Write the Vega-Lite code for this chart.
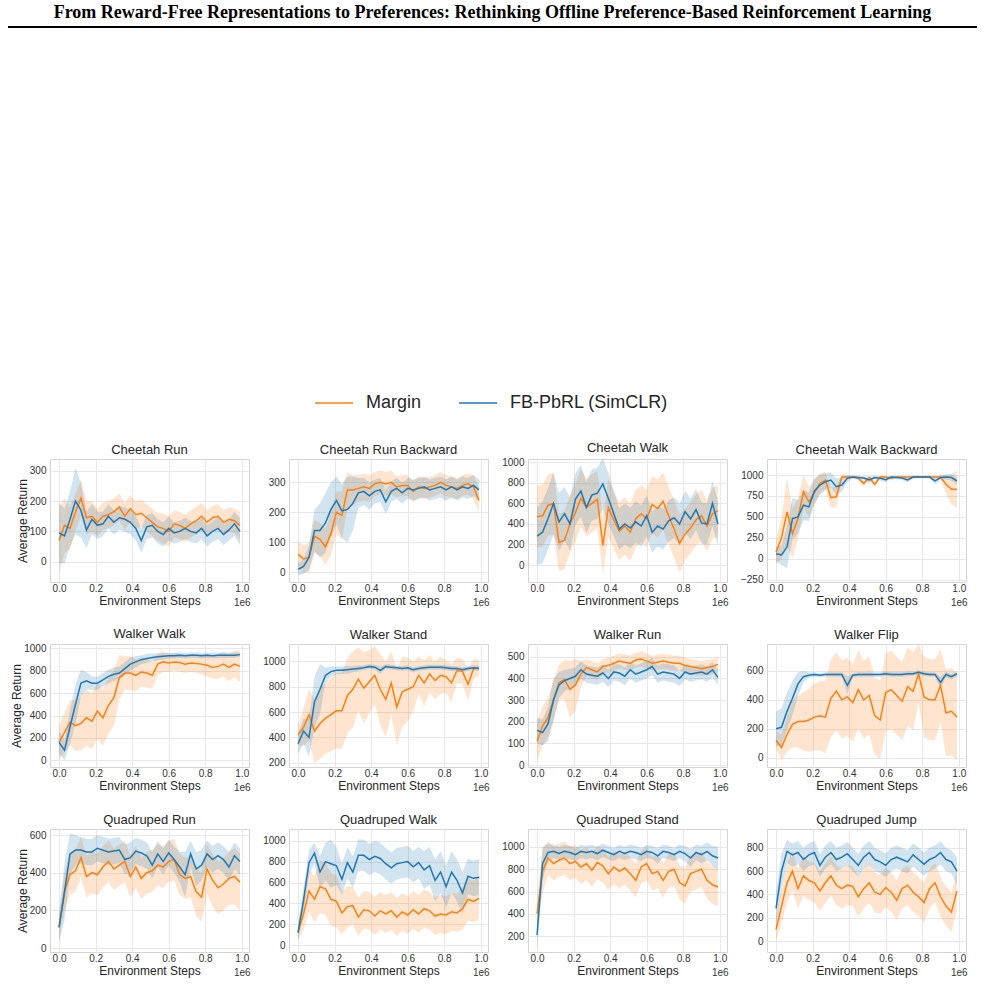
{
"$schema":"https://vega.github.io/schema/vega-lite/v6.json",
"padding":{"left":5,"right":8,"top":4,"bottom":2},
"background":"white",
"data":{"values":[
{"t":"CR","x":0,"m":70,"me":110,"f":95,"fe":100},{"t":"CR","x":0.03,"m":120,"me":90,"f":85,"fe":90},{"t":"CR","x":0.06,"m":110,"me":70,"f":140,"fe":90},{"t":"CR","x":0.09,"m":165,"me":60,"f":200,"fe":110},{"t":"CR","x":0.12,"m":210,"me":60,"f":170,"fe":90},{"t":"CR","x":0.15,"m":145,"me":55,"f":105,"fe":60},{"t":"CR","x":0.18,"m":150,"me":50,"f":140,"fe":50},{"t":"CR","x":0.21,"m":130,"me":45,"f":120,"fe":45},{"t":"CR","x":0.24,"m":150,"me":45,"f":125,"fe":40},{"t":"CR","x":0.27,"m":155,"me":45,"f":150,"fe":40},{"t":"CR","x":0.3,"m":165,"me":45,"f":130,"fe":40},{"t":"CR","x":0.33,"m":180,"me":45,"f":145,"fe":40},{"t":"CR","x":0.36,"m":150,"me":45,"f":140,"fe":40},{"t":"CR","x":0.39,"m":175,"me":45,"f":130,"fe":40},{"t":"CR","x":0.42,"m":155,"me":45,"f":110,"fe":40},{"t":"CR","x":0.45,"m":160,"me":45,"f":70,"fe":40},{"t":"CR","x":0.48,"m":145,"me":45,"f":115,"fe":40},{"t":"CR","x":0.51,"m":130,"me":45,"f":120,"fe":40},{"t":"CR","x":0.54,"m":115,"me":45,"f":100,"fe":40},{"t":"CR","x":0.57,"m":110,"me":50,"f":90,"fe":40},{"t":"CR","x":0.6,"m":100,"me":50,"f":110,"fe":40},{"t":"CR","x":0.63,"m":125,"me":45,"f":95,"fe":35},{"t":"CR","x":0.66,"m":120,"me":45,"f":100,"fe":35},{"t":"CR","x":0.69,"m":110,"me":45,"f":110,"fe":35},{"t":"CR","x":0.72,"m":125,"me":45,"f":100,"fe":35},{"t":"CR","x":0.75,"m":135,"me":45,"f":95,"fe":35},{"t":"CR","x":0.78,"m":150,"me":45,"f":110,"fe":35},{"t":"CR","x":0.81,"m":130,"me":40,"f":85,"fe":35},{"t":"CR","x":0.84,"m":145,"me":40,"f":100,"fe":35},{"t":"CR","x":0.87,"m":150,"me":40,"f":110,"fe":35},{"t":"CR","x":0.9,"m":130,"me":40,"f":90,"fe":35},{"t":"CR","x":0.93,"m":140,"me":40,"f":105,"fe":35},{"t":"CR","x":0.96,"m":135,"me":40,"f":125,"fe":40},{"t":"CR","x":0.99,"m":120,"me":45,"f":100,"fe":45},
{"t":"CRB","x":0,"m":60,"me":45,"f":10,"fe":20},{"t":"CRB","x":0.03,"m":45,"me":45,"f":20,"fe":25},{"t":"CRB","x":0.06,"m":50,"me":50,"f":50,"fe":40},{"t":"CRB","x":0.09,"m":120,"me":55,"f":140,"fe":70},{"t":"CRB","x":0.12,"m":110,"me":55,"f":140,"fe":90},{"t":"CRB","x":0.15,"m":85,"me":60,"f":165,"fe":100},{"t":"CRB","x":0.18,"m":130,"me":70,"f":210,"fe":90},{"t":"CRB","x":0.21,"m":200,"me":70,"f":240,"fe":80},{"t":"CRB","x":0.24,"m":190,"me":80,"f":205,"fe":90},{"t":"CRB","x":0.27,"m":275,"me":60,"f":210,"fe":110},{"t":"CRB","x":0.3,"m":275,"me":50,"f":230,"fe":90},{"t":"CRB","x":0.33,"m":280,"me":45,"f":265,"fe":50},{"t":"CRB","x":0.36,"m":285,"me":45,"f":270,"fe":45},{"t":"CRB","x":0.39,"m":280,"me":45,"f":255,"fe":45},{"t":"CRB","x":0.42,"m":295,"me":40,"f":270,"fe":40},{"t":"CRB","x":0.45,"m":300,"me":40,"f":275,"fe":40},{"t":"CRB","x":0.48,"m":295,"me":40,"f":235,"fe":40},{"t":"CRB","x":0.51,"m":300,"me":40,"f":270,"fe":35},{"t":"CRB","x":0.54,"m":285,"me":35,"f":280,"fe":35},{"t":"CRB","x":0.57,"m":290,"me":35,"f":265,"fe":35},{"t":"CRB","x":0.6,"m":290,"me":35,"f":280,"fe":35},{"t":"CRB","x":0.63,"m":270,"me":35,"f":275,"fe":35},{"t":"CRB","x":0.66,"m":285,"me":35,"f":280,"fe":35},{"t":"CRB","x":0.69,"m":280,"me":35,"f":285,"fe":35},{"t":"CRB","x":0.72,"m":285,"me":35,"f":275,"fe":35},{"t":"CRB","x":0.75,"m":290,"me":35,"f":280,"fe":35},{"t":"CRB","x":0.78,"m":300,"me":35,"f":285,"fe":35},{"t":"CRB","x":0.81,"m":290,"me":35,"f":275,"fe":35},{"t":"CRB","x":0.84,"m":285,"me":35,"f":285,"fe":35},{"t":"CRB","x":0.87,"m":280,"me":35,"f":275,"fe":35},{"t":"CRB","x":0.9,"m":290,"me":35,"f":285,"fe":35},{"t":"CRB","x":0.93,"m":295,"me":35,"f":280,"fe":35},{"t":"CRB","x":0.96,"m":285,"me":40,"f":290,"fe":35},{"t":"CRB","x":0.99,"m":240,"me":40,"f":275,"fe":35},
{"t":"CW","x":0,"m":470,"me":300,"f":280,"fe":280},{"t":"CW","x":0.03,"m":480,"me":300,"f":320,"fe":300},{"t":"CW","x":0.06,"m":580,"me":300,"f":450,"fe":300},{"t":"CW","x":0.09,"m":600,"me":300,"f":600,"fe":300},{"t":"CW","x":0.12,"m":220,"me":280,"f":420,"fe":280},{"t":"CW","x":0.15,"m":240,"me":280,"f":500,"fe":260},{"t":"CW","x":0.18,"m":400,"me":280,"f":400,"fe":260},{"t":"CW","x":0.21,"m":510,"me":280,"f":640,"fe":250},{"t":"CW","x":0.24,"m":650,"me":280,"f":720,"fe":250},{"t":"CW","x":0.27,"m":560,"me":280,"f":560,"fe":250},{"t":"CW","x":0.3,"m":600,"me":280,"f":680,"fe":250},{"t":"CW","x":0.33,"m":640,"me":280,"f":700,"fe":250},{"t":"CW","x":0.36,"m":190,"me":280,"f":790,"fe":250},{"t":"CW","x":0.39,"m":560,"me":280,"f":650,"fe":250},{"t":"CW","x":0.42,"m":440,"me":280,"f":500,"fe":220},{"t":"CW","x":0.45,"m":330,"me":280,"f":350,"fe":200},{"t":"CW","x":0.48,"m":380,"me":280,"f":400,"fe":200},{"t":"CW","x":0.51,"m":320,"me":280,"f":360,"fe":200},{"t":"CW","x":0.54,"m":450,"me":280,"f":420,"fe":200},{"t":"CW","x":0.57,"m":500,"me":280,"f":380,"fe":200},{"t":"CW","x":0.6,"m":450,"me":280,"f":480,"fe":200},{"t":"CW","x":0.63,"m":590,"me":280,"f":320,"fe":200},{"t":"CW","x":0.66,"m":550,"me":280,"f":380,"fe":200},{"t":"CW","x":0.69,"m":620,"me":280,"f":350,"fe":200},{"t":"CW","x":0.72,"m":480,"me":280,"f":430,"fe":200},{"t":"CW","x":0.75,"m":350,"me":280,"f":460,"fe":200},{"t":"CW","x":0.78,"m":210,"me":280,"f":400,"fe":200},{"t":"CW","x":0.81,"m":300,"me":250,"f":520,"fe":200},{"t":"CW","x":0.84,"m":360,"me":250,"f":450,"fe":200},{"t":"CW","x":0.87,"m":440,"me":250,"f":540,"fe":200},{"t":"CW","x":0.9,"m":480,"me":250,"f":410,"fe":200},{"t":"CW","x":0.93,"m":380,"me":250,"f":400,"fe":200},{"t":"CW","x":0.96,"m":500,"me":250,"f":600,"fe":220},{"t":"CW","x":0.99,"m":530,"me":250,"f":400,"fe":220},
{"t":"CWB","x":0,"m":80,"me":150,"f":60,"fe":80},{"t":"CWB","x":0.03,"m":250,"me":250,"f":45,"fe":120},{"t":"CWB","x":0.06,"m":560,"me":400,"f":140,"fe":250},{"t":"CWB","x":0.09,"m":300,"me":300,"f":480,"fe":250},{"t":"CWB","x":0.12,"m":480,"me":250,"f":500,"fe":200},{"t":"CWB","x":0.15,"m":800,"me":200,"f":640,"fe":180},{"t":"CWB","x":0.18,"m":680,"me":180,"f":620,"fe":170},{"t":"CWB","x":0.21,"m":790,"me":150,"f":810,"fe":150},{"t":"CWB","x":0.24,"m":900,"me":120,"f":880,"fe":120},{"t":"CWB","x":0.27,"m":940,"me":100,"f":920,"fe":100},{"t":"CWB","x":0.3,"m":730,"me":120,"f":940,"fe":90},{"t":"CWB","x":0.33,"m":740,"me":120,"f":860,"fe":100},{"t":"CWB","x":0.36,"m":975,"me":30,"f":880,"fe":80},{"t":"CWB","x":0.39,"m":975,"me":20,"f":960,"fe":40},{"t":"CWB","x":0.42,"m":975,"me":15,"f":975,"fe":20},{"t":"CWB","x":0.45,"m":960,"me":20,"f":970,"fe":20},{"t":"CWB","x":0.48,"m":900,"me":40,"f":965,"fe":20},{"t":"CWB","x":0.51,"m":970,"me":20,"f":940,"fe":40},{"t":"CWB","x":0.54,"m":890,"me":40,"f":970,"fe":20},{"t":"CWB","x":0.57,"m":975,"me":15,"f":960,"fe":25},{"t":"CWB","x":0.6,"m":975,"me":15,"f":945,"fe":30},{"t":"CWB","x":0.63,"m":960,"me":20,"f":975,"fe":20},{"t":"CWB","x":0.66,"m":975,"me":15,"f":970,"fe":20},{"t":"CWB","x":0.69,"m":975,"me":15,"f":965,"fe":25},{"t":"CWB","x":0.72,"m":975,"me":15,"f":940,"fe":30},{"t":"CWB","x":0.75,"m":975,"me":15,"f":975,"fe":15},{"t":"CWB","x":0.78,"m":975,"me":15,"f":975,"fe":15},{"t":"CWB","x":0.81,"m":975,"me":15,"f":975,"fe":15},{"t":"CWB","x":0.84,"m":975,"me":15,"f":975,"fe":15},{"t":"CWB","x":0.87,"m":975,"me":15,"f":930,"fe":40},{"t":"CWB","x":0.9,"m":975,"me":20,"f":970,"fe":30},{"t":"CWB","x":0.93,"m":890,"me":120,"f":975,"fe":30},{"t":"CWB","x":0.96,"m":830,"me":180,"f":970,"fe":40},{"t":"CWB","x":0.99,"m":830,"me":220,"f":930,"fe":40},
{"t":"WW","x":0,"m":160,"me":150,"f":160,"fe":100},{"t":"WW","x":0.03,"m":250,"me":180,"f":90,"fe":90},{"t":"WW","x":0.06,"m":340,"me":200,"f":300,"fe":150},{"t":"WW","x":0.09,"m":310,"me":230,"f":500,"fe":180},{"t":"WW","x":0.12,"m":330,"me":240,"f":690,"fe":120},{"t":"WW","x":0.15,"m":380,"me":250,"f":710,"fe":80},{"t":"WW","x":0.18,"m":350,"me":250,"f":690,"fe":60},{"t":"WW","x":0.21,"m":440,"me":250,"f":690,"fe":60},{"t":"WW","x":0.24,"m":380,"me":250,"f":720,"fe":60},{"t":"WW","x":0.27,"m":490,"me":250,"f":750,"fe":60},{"t":"WW","x":0.3,"m":560,"me":250,"f":770,"fe":60},{"t":"WW","x":0.33,"m":740,"me":200,"f":780,"fe":60},{"t":"WW","x":0.36,"m":780,"me":150,"f":820,"fe":60},{"t":"WW","x":0.39,"m":780,"me":150,"f":860,"fe":60},{"t":"WW","x":0.42,"m":760,"me":140,"f":880,"fe":50},{"t":"WW","x":0.45,"m":790,"me":130,"f":900,"fe":40},{"t":"WW","x":0.48,"m":780,"me":130,"f":910,"fe":40},{"t":"WW","x":0.51,"m":760,"me":120,"f":920,"fe":35},{"t":"WW","x":0.54,"m":860,"me":100,"f":925,"fe":30},{"t":"WW","x":0.57,"m":880,"me":90,"f":930,"fe":30},{"t":"WW","x":0.6,"m":870,"me":80,"f":935,"fe":25},{"t":"WW","x":0.63,"m":880,"me":80,"f":935,"fe":25},{"t":"WW","x":0.66,"m":875,"me":80,"f":940,"fe":25},{"t":"WW","x":0.69,"m":860,"me":80,"f":935,"fe":25},{"t":"WW","x":0.72,"m":870,"me":80,"f":940,"fe":25},{"t":"WW","x":0.75,"m":865,"me":80,"f":940,"fe":25},{"t":"WW","x":0.78,"m":860,"me":90,"f":935,"fe":25},{"t":"WW","x":0.81,"m":850,"me":100,"f":940,"fe":25},{"t":"WW","x":0.84,"m":830,"me":100,"f":935,"fe":25},{"t":"WW","x":0.87,"m":840,"me":110,"f":940,"fe":25},{"t":"WW","x":0.9,"m":860,"me":110,"f":940,"fe":25},{"t":"WW","x":0.93,"m":830,"me":120,"f":940,"fe":25},{"t":"WW","x":0.96,"m":860,"me":120,"f":940,"fe":25},{"t":"WW","x":0.99,"m":840,"me":140,"f":945,"fe":20},
{"t":"WS","x":0,"m":420,"me":80,"f":350,"fe":80},{"t":"WS","x":0.03,"m":480,"me":150,"f":450,"fe":100},{"t":"WS","x":0.06,"m":580,"me":200,"f":400,"fe":150},{"t":"WS","x":0.09,"m":450,"me":250,"f":680,"fe":200},{"t":"WS","x":0.12,"m":510,"me":280,"f":780,"fe":200},{"t":"WS","x":0.15,"m":550,"me":280,"f":890,"fe":60},{"t":"WS","x":0.18,"m":580,"me":290,"f":920,"fe":40},{"t":"WS","x":0.21,"m":610,"me":300,"f":930,"fe":30},{"t":"WS","x":0.24,"m":610,"me":300,"f":930,"fe":30},{"t":"WS","x":0.27,"m":730,"me":300,"f":935,"fe":30},{"t":"WS","x":0.3,"m":780,"me":300,"f":940,"fe":25},{"t":"WS","x":0.33,"m":860,"me":250,"f":945,"fe":25},{"t":"WS","x":0.36,"m":790,"me":280,"f":950,"fe":20},{"t":"WS","x":0.39,"m":840,"me":250,"f":960,"fe":20},{"t":"WS","x":0.42,"m":890,"me":230,"f":955,"fe":20},{"t":"WS","x":0.45,"m":780,"me":280,"f":930,"fe":30},{"t":"WS","x":0.48,"m":700,"me":300,"f":960,"fe":20},{"t":"WS","x":0.51,"m":830,"me":250,"f":955,"fe":20},{"t":"WS","x":0.54,"m":640,"me":300,"f":950,"fe":20},{"t":"WS","x":0.57,"m":760,"me":280,"f":945,"fe":20},{"t":"WS","x":0.6,"m":780,"me":250,"f":950,"fe":20},{"t":"WS","x":0.63,"m":800,"me":200,"f":935,"fe":20},{"t":"WS","x":0.66,"m":890,"me":150,"f":945,"fe":20},{"t":"WS","x":0.69,"m":830,"me":180,"f":950,"fe":20},{"t":"WS","x":0.72,"m":900,"me":150,"f":955,"fe":20},{"t":"WS","x":0.75,"m":850,"me":150,"f":955,"fe":20},{"t":"WS","x":0.78,"m":890,"me":150,"f":955,"fe":20},{"t":"WS","x":0.81,"m":880,"me":130,"f":950,"fe":20},{"t":"WS","x":0.84,"m":830,"me":150,"f":945,"fe":20},{"t":"WS","x":0.87,"m":930,"me":100,"f":945,"fe":20},{"t":"WS","x":0.9,"m":920,"me":100,"f":935,"fe":20},{"t":"WS","x":0.93,"m":820,"me":130,"f":945,"fe":20},{"t":"WS","x":0.96,"m":940,"me":80,"f":950,"fe":20},{"t":"WS","x":0.99,"m":950,"me":60,"f":945,"fe":25},
{"t":"WR","x":0,"m":110,"me":90,"f":160,"fe":60},{"t":"WR","x":0.03,"m":180,"me":90,"f":150,"fe":60},{"t":"WR","x":0.06,"m":220,"me":90,"f":190,"fe":80},{"t":"WR","x":0.09,"m":300,"me":90,"f":300,"fe":100},{"t":"WR","x":0.12,"m":380,"me":80,"f":370,"fe":60},{"t":"WR","x":0.15,"m":395,"me":90,"f":390,"fe":50},{"t":"WR","x":0.18,"m":350,"me":130,"f":400,"fe":45},{"t":"WR","x":0.21,"m":370,"me":120,"f":410,"fe":40},{"t":"WR","x":0.24,"m":420,"me":60,"f":440,"fe":40},{"t":"WR","x":0.27,"m":450,"me":40,"f":420,"fe":40},{"t":"WR","x":0.3,"m":440,"me":40,"f":415,"fe":40},{"t":"WR","x":0.33,"m":430,"me":40,"f":410,"fe":40},{"t":"WR","x":0.36,"m":455,"me":35,"f":425,"fe":40},{"t":"WR","x":0.39,"m":460,"me":35,"f":400,"fe":40},{"t":"WR","x":0.42,"m":470,"me":35,"f":430,"fe":40},{"t":"WR","x":0.45,"m":480,"me":35,"f":425,"fe":40},{"t":"WR","x":0.48,"m":475,"me":35,"f":410,"fe":40},{"t":"WR","x":0.51,"m":470,"me":35,"f":440,"fe":40},{"t":"WR","x":0.54,"m":485,"me":35,"f":420,"fe":40},{"t":"WR","x":0.57,"m":490,"me":35,"f":430,"fe":40},{"t":"WR","x":0.6,"m":480,"me":35,"f":440,"fe":40},{"t":"WR","x":0.63,"m":470,"me":35,"f":455,"fe":40},{"t":"WR","x":0.66,"m":475,"me":35,"f":420,"fe":40},{"t":"WR","x":0.69,"m":480,"me":35,"f":430,"fe":40},{"t":"WR","x":0.72,"m":475,"me":35,"f":425,"fe":40},{"t":"WR","x":0.75,"m":470,"me":35,"f":420,"fe":40},{"t":"WR","x":0.78,"m":470,"me":35,"f":400,"fe":35},{"t":"WR","x":0.81,"m":460,"me":35,"f":430,"fe":35},{"t":"WR","x":0.84,"m":455,"me":35,"f":420,"fe":35},{"t":"WR","x":0.87,"m":450,"me":35,"f":425,"fe":35},{"t":"WR","x":0.9,"m":445,"me":35,"f":430,"fe":35},{"t":"WR","x":0.93,"m":450,"me":35,"f":420,"fe":35},{"t":"WR","x":0.96,"m":455,"me":35,"f":440,"fe":35},{"t":"WR","x":0.99,"m":465,"me":35,"f":405,"fe":35},
{"t":"WF","x":0,"m":120,"me":60,"f":200,"fe":120},{"t":"WF","x":0.03,"m":70,"me":90,"f":210,"fe":130},{"t":"WF","x":0.06,"m":160,"me":120,"f":320,"fe":130},{"t":"WF","x":0.09,"m":230,"me":160,"f":410,"fe":120},{"t":"WF","x":0.12,"m":250,"me":180,"f":510,"fe":80},{"t":"WF","x":0.15,"m":250,"me":200,"f":560,"fe":40},{"t":"WF","x":0.18,"m":260,"me":220,"f":570,"fe":20},{"t":"WF","x":0.21,"m":280,"me":230,"f":575,"fe":15},{"t":"WF","x":0.24,"m":290,"me":240,"f":570,"fe":15},{"t":"WF","x":0.27,"m":280,"me":250,"f":575,"fe":15},{"t":"WF","x":0.3,"m":410,"me":270,"f":575,"fe":15},{"t":"WF","x":0.33,"m":460,"me":270,"f":575,"fe":15},{"t":"WF","x":0.36,"m":400,"me":270,"f":575,"fe":15},{"t":"WF","x":0.39,"m":420,"me":270,"f":500,"fe":60},{"t":"WF","x":0.42,"m":380,"me":270,"f":570,"fe":15},{"t":"WF","x":0.45,"m":470,"me":270,"f":575,"fe":15},{"t":"WF","x":0.48,"m":400,"me":270,"f":575,"fe":15},{"t":"WF","x":0.51,"m":430,"me":270,"f":575,"fe":15},{"t":"WF","x":0.54,"m":290,"me":270,"f":575,"fe":15},{"t":"WF","x":0.57,"m":260,"me":270,"f":575,"fe":15},{"t":"WF","x":0.6,"m":450,"me":270,"f":580,"fe":15},{"t":"WF","x":0.63,"m":470,"me":270,"f":575,"fe":15},{"t":"WF","x":0.66,"m":430,"me":270,"f":575,"fe":15},{"t":"WF","x":0.69,"m":390,"me":270,"f":575,"fe":15},{"t":"WF","x":0.72,"m":490,"me":270,"f":580,"fe":15},{"t":"WF","x":0.75,"m":460,"me":270,"f":580,"fe":15},{"t":"WF","x":0.78,"m":580,"me":200,"f":590,"fe":15},{"t":"WF","x":0.81,"m":420,"me":280,"f":580,"fe":15},{"t":"WF","x":0.84,"m":400,"me":280,"f":575,"fe":15},{"t":"WF","x":0.87,"m":400,"me":280,"f":575,"fe":15},{"t":"WF","x":0.9,"m":500,"me":250,"f":520,"fe":40},{"t":"WF","x":0.93,"m":310,"me":300,"f":575,"fe":20},{"t":"WF","x":0.96,"m":320,"me":300,"f":560,"fe":20},{"t":"WF","x":0.99,"m":280,"me":300,"f":580,"fe":20},
{"t":"QR","x":0,"m":110,"me":60,"f":110,"fe":80},{"t":"QR","x":0.03,"m":300,"me":100,"f":300,"fe":150},{"t":"QR","x":0.06,"m":390,"me":110,"f":500,"fe":110},{"t":"QR","x":0.09,"m":410,"me":110,"f":520,"fe":80},{"t":"QR","x":0.12,"m":480,"me":110,"f":520,"fe":70},{"t":"QR","x":0.15,"m":380,"me":110,"f":510,"fe":70},{"t":"QR","x":0.18,"m":400,"me":110,"f":510,"fe":70},{"t":"QR","x":0.21,"m":390,"me":110,"f":530,"fe":70},{"t":"QR","x":0.24,"m":430,"me":110,"f":520,"fe":70},{"t":"QR","x":0.27,"m":460,"me":110,"f":510,"fe":70},{"t":"QR","x":0.3,"m":420,"me":110,"f":515,"fe":70},{"t":"QR","x":0.33,"m":440,"me":110,"f":520,"fe":70},{"t":"QR","x":0.36,"m":460,"me":110,"f":470,"fe":80},{"t":"QR","x":0.39,"m":380,"me":110,"f":480,"fe":80},{"t":"QR","x":0.42,"m":430,"me":110,"f":515,"fe":70},{"t":"QR","x":0.45,"m":370,"me":110,"f":505,"fe":70},{"t":"QR","x":0.48,"m":400,"me":110,"f":490,"fe":70},{"t":"QR","x":0.51,"m":410,"me":110,"f":440,"fe":70},{"t":"QR","x":0.54,"m":440,"me":110,"f":500,"fe":70},{"t":"QR","x":0.57,"m":430,"me":110,"f":460,"fe":70},{"t":"QR","x":0.6,"m":460,"me":110,"f":505,"fe":70},{"t":"QR","x":0.63,"m":470,"me":110,"f":470,"fe":70},{"t":"QR","x":0.66,"m":390,"me":110,"f":430,"fe":80},{"t":"QR","x":0.69,"m":370,"me":110,"f":390,"fe":120},{"t":"QR","x":0.72,"m":380,"me":110,"f":500,"fe":70},{"t":"QR","x":0.75,"m":300,"me":130,"f":420,"fe":90},{"t":"QR","x":0.78,"m":270,"me":130,"f":440,"fe":80},{"t":"QR","x":0.81,"m":420,"me":130,"f":500,"fe":70},{"t":"QR","x":0.84,"m":360,"me":140,"f":470,"fe":70},{"t":"QR","x":0.87,"m":320,"me":140,"f":490,"fe":70},{"t":"QR","x":0.9,"m":340,"me":140,"f":470,"fe":70},{"t":"QR","x":0.93,"m":370,"me":140,"f":430,"fe":80},{"t":"QR","x":0.96,"m":380,"me":150,"f":490,"fe":70},{"t":"QR","x":0.99,"m":350,"me":150,"f":460,"fe":70},
{"t":"QW","x":0,"m":130,"me":80,"f":120,"fe":80},{"t":"QW","x":0.03,"m":300,"me":150,"f":430,"fe":120},{"t":"QW","x":0.06,"m":520,"me":200,"f":790,"fe":120},{"t":"QW","x":0.09,"m":440,"me":220,"f":880,"fe":100},{"t":"QW","x":0.12,"m":560,"me":250,"f":700,"fe":150},{"t":"QW","x":0.15,"m":540,"me":250,"f":800,"fe":180},{"t":"QW","x":0.18,"m":440,"me":250,"f":780,"fe":230},{"t":"QW","x":0.21,"m":420,"me":250,"f":760,"fe":180},{"t":"QW","x":0.24,"m":310,"me":200,"f":630,"fe":150},{"t":"QW","x":0.27,"m":370,"me":200,"f":790,"fe":150},{"t":"QW","x":0.3,"m":380,"me":180,"f":700,"fe":150},{"t":"QW","x":0.33,"m":270,"me":180,"f":860,"fe":150},{"t":"QW","x":0.36,"m":340,"me":180,"f":860,"fe":150},{"t":"QW","x":0.39,"m":330,"me":180,"f":820,"fe":150},{"t":"QW","x":0.42,"m":280,"me":180,"f":850,"fe":150},{"t":"QW","x":0.45,"m":330,"me":180,"f":830,"fe":150},{"t":"QW","x":0.48,"m":300,"me":180,"f":780,"fe":150},{"t":"QW","x":0.51,"m":330,"me":180,"f":740,"fe":150},{"t":"QW","x":0.54,"m":270,"me":180,"f":780,"fe":150},{"t":"QW","x":0.57,"m":320,"me":180,"f":790,"fe":150},{"t":"QW","x":0.6,"m":290,"me":180,"f":800,"fe":150},{"t":"QW","x":0.63,"m":340,"me":180,"f":750,"fe":150},{"t":"QW","x":0.66,"m":300,"me":180,"f":790,"fe":150},{"t":"QW","x":0.69,"m":350,"me":180,"f":720,"fe":180},{"t":"QW","x":0.72,"m":330,"me":180,"f":760,"fe":180},{"t":"QW","x":0.75,"m":280,"me":180,"f":620,"fe":200},{"t":"QW","x":0.78,"m":300,"me":180,"f":700,"fe":200},{"t":"QW","x":0.81,"m":290,"me":180,"f":560,"fe":200},{"t":"QW","x":0.84,"m":320,"me":180,"f":700,"fe":200},{"t":"QW","x":0.87,"m":310,"me":180,"f":620,"fe":200},{"t":"QW","x":0.9,"m":350,"me":200,"f":500,"fe":200},{"t":"QW","x":0.93,"m":440,"me":200,"f":660,"fe":170},{"t":"QW","x":0.96,"m":420,"me":200,"f":640,"fe":170},{"t":"QW","x":0.99,"m":450,"me":200,"f":650,"fe":170},
{"t":"QS","x":0,"m":400,"me":150,"f":210,"fe":150},{"t":"QS","x":0.03,"m":780,"me":200,"f":850,"fe":150},{"t":"QS","x":0.06,"m":900,"me":150,"f":950,"fe":80},{"t":"QS","x":0.09,"m":850,"me":150,"f":960,"fe":60},{"t":"QS","x":0.12,"m":880,"me":150,"f":940,"fe":60},{"t":"QS","x":0.15,"m":900,"me":150,"f":960,"fe":60},{"t":"QS","x":0.18,"m":850,"me":150,"f":950,"fe":60},{"t":"QS","x":0.21,"m":870,"me":150,"f":930,"fe":60},{"t":"QS","x":0.24,"m":820,"me":150,"f":960,"fe":60},{"t":"QS","x":0.27,"m":850,"me":150,"f":950,"fe":60},{"t":"QS","x":0.3,"m":790,"me":150,"f":960,"fe":60},{"t":"QS","x":0.33,"m":860,"me":150,"f":940,"fe":60},{"t":"QS","x":0.36,"m":830,"me":150,"f":970,"fe":60},{"t":"QS","x":0.39,"m":760,"me":150,"f":950,"fe":60},{"t":"QS","x":0.42,"m":820,"me":150,"f":930,"fe":60},{"t":"QS","x":0.45,"m":780,"me":150,"f":960,"fe":60},{"t":"QS","x":0.48,"m":810,"me":150,"f":940,"fe":60},{"t":"QS","x":0.51,"m":760,"me":150,"f":960,"fe":60},{"t":"QS","x":0.54,"m":700,"me":150,"f":950,"fe":60},{"t":"QS","x":0.57,"m":820,"me":150,"f":930,"fe":60},{"t":"QS","x":0.6,"m":850,"me":150,"f":960,"fe":60},{"t":"QS","x":0.63,"m":760,"me":150,"f":950,"fe":60},{"t":"QS","x":0.66,"m":780,"me":150,"f":920,"fe":70},{"t":"QS","x":0.69,"m":700,"me":150,"f":960,"fe":60},{"t":"QS","x":0.72,"m":780,"me":150,"f":950,"fe":60},{"t":"QS","x":0.75,"m":800,"me":150,"f":930,"fe":60},{"t":"QS","x":0.78,"m":680,"me":150,"f":960,"fe":60},{"t":"QS","x":0.81,"m":650,"me":160,"f":940,"fe":70},{"t":"QS","x":0.84,"m":760,"me":160,"f":900,"fe":80},{"t":"QS","x":0.87,"m":780,"me":160,"f":950,"fe":70},{"t":"QS","x":0.9,"m":800,"me":160,"f":930,"fe":80},{"t":"QS","x":0.93,"m":700,"me":160,"f":960,"fe":80},{"t":"QS","x":0.96,"m":660,"me":170,"f":920,"fe":90},{"t":"QS","x":0.99,"m":640,"me":170,"f":900,"fe":100},
{"t":"QJ","x":0,"m":100,"me":100,"f":280,"fe":150},{"t":"QJ","x":0.03,"m":300,"me":150,"f":600,"fe":150},{"t":"QJ","x":0.06,"m":500,"me":170,"f":770,"fe":100},{"t":"QJ","x":0.09,"m":600,"me":170,"f":740,"fe":100},{"t":"QJ","x":0.12,"m":450,"me":170,"f":760,"fe":100},{"t":"QJ","x":0.15,"m":560,"me":170,"f":700,"fe":100},{"t":"QJ","x":0.18,"m":520,"me":170,"f":740,"fe":100},{"t":"QJ","x":0.21,"m":500,"me":170,"f":760,"fe":100},{"t":"QJ","x":0.24,"m":430,"me":170,"f":650,"fe":100},{"t":"QJ","x":0.27,"m":500,"me":170,"f":720,"fe":100},{"t":"QJ","x":0.3,"m":560,"me":170,"f":760,"fe":100},{"t":"QJ","x":0.33,"m":480,"me":170,"f":700,"fe":100},{"t":"QJ","x":0.36,"m":450,"me":170,"f":720,"fe":100},{"t":"QJ","x":0.39,"m":480,"me":170,"f":750,"fe":100},{"t":"QJ","x":0.42,"m":470,"me":170,"f":700,"fe":100},{"t":"QJ","x":0.45,"m":380,"me":170,"f":650,"fe":100},{"t":"QJ","x":0.48,"m":450,"me":170,"f":720,"fe":100},{"t":"QJ","x":0.51,"m":500,"me":170,"f":760,"fe":100},{"t":"QJ","x":0.54,"m":420,"me":170,"f":700,"fe":100},{"t":"QJ","x":0.57,"m":400,"me":170,"f":680,"fe":100},{"t":"QJ","x":0.6,"m":460,"me":170,"f":650,"fe":100},{"t":"QJ","x":0.63,"m":420,"me":170,"f":700,"fe":100},{"t":"QJ","x":0.66,"m":350,"me":170,"f":720,"fe":100},{"t":"QJ","x":0.69,"m":450,"me":170,"f":700,"fe":100},{"t":"QJ","x":0.72,"m":480,"me":170,"f":680,"fe":100},{"t":"QJ","x":0.75,"m":420,"me":170,"f":740,"fe":100},{"t":"QJ","x":0.78,"m":380,"me":170,"f":700,"fe":100},{"t":"QJ","x":0.81,"m":330,"me":170,"f":660,"fe":100},{"t":"QJ","x":0.84,"m":450,"me":170,"f":700,"fe":100},{"t":"QJ","x":0.87,"m":500,"me":170,"f":720,"fe":100},{"t":"QJ","x":0.9,"m":380,"me":170,"f":760,"fe":100},{"t":"QJ","x":0.93,"m":300,"me":170,"f":700,"fe":100},{"t":"QJ","x":0.96,"m":250,"me":170,"f":680,"fe":100},{"t":"QJ","x":0.99,"m":430,"me":170,"f":600,"fe":120}
]},
"spacing":411,
"vconcat":[
{"width":969,"height":2,"data":{"values":[{}]},"title":{"text":"From Reward-Free Representations to Preferences: Rethinking Offline Preference-Based Reinforcement Learning","font":"Liberation Serif","fontSize":18,"fontWeight":"bold","color":"black","offset":2},"view":{"fill":"black","stroke":null},"mark":{"type":"point","opacity":0},"encoding":{}},
{"bounds":"flush","spacing":41,"hconcat":[
{"width":1,"height":1,"data":{"values":[{}]},"view":{"stroke":null},"mark":{"type":"point","opacity":0},"encoding":{}},
{"columns":4,"bounds":"flush","spacing":{"row":62,"column":40},"concat":[
{"title":"Cheetah Run","width":199,"height":123,"transform":[{"filter":"datum.t=='CR'"}],"encoding":{"x":{"field":"x","type":"quantitative","scale":{"domain":[-0.0495,1.0395]},"axis":{"values":[0,0.2,0.4,0.6,0.8,1],"format":".1f","labelExpr":"datum.value==1?['1.0','1e6']:datum.label","title":"Environment Steps","titleBaseline":"alphabetic","titleY":22}}},"layer":[
{"mark":"errorband","encoding":{"y":{"field":"m","type":"quantitative","scale":{"domain":[-67,339]},"axis":{"values":[0,100,200,300],"format":"d","title":"Average Return"}},"yError":{"field":"me"},"color":{"datum":"Margin"}}},
{"mark":"errorband","encoding":{"y":{"field":"f","type":"quantitative","scale":{"domain":[-67,339]},"axis":{"values":[0,100,200,300],"format":"d","title":"Average Return"}},"yError":{"field":"fe"},"color":{"datum":"FB-PbRL (SimCLR)"}}},
{"mark":"line","encoding":{"y":{"field":"m","type":"quantitative","scale":{"domain":[-67,339]},"axis":{"values":[0,100,200,300],"format":"d","title":"Average Return"}},"color":{"datum":"Margin","scale":{"domain":["Margin","FB-PbRL (SimCLR)"],"range":["#ff7f0e","#1f77b4"]},"legend":{"title":null,"symbolStrokeWidth":3,"encode":{"symbols":{"update":{"strokeWidth":{"value":3}}}}}}}},
{"mark":"line","encoding":{"y":{"field":"f","type":"quantitative","scale":{"domain":[-67,339]},"axis":{"values":[0,100,200,300],"format":"d","title":"Average Return"}},"color":{"datum":"FB-PbRL (SimCLR)"}}}]},
{"title":"Cheetah Run Backward","width":199,"height":123,"transform":[{"filter":"datum.t=='CRB'"}],"encoding":{"x":{"field":"x","type":"quantitative","scale":{"domain":[-0.0495,1.0395]},"axis":{"values":[0,0.2,0.4,0.6,0.8,1],"format":".1f","labelExpr":"datum.value==1?['1.0','1e6']:datum.label","title":"Environment Steps","titleBaseline":"alphabetic","titleY":22}}},"layer":[
{"mark":"errorband","encoding":{"y":{"field":"m","type":"quantitative","scale":{"domain":[-32,378]},"axis":{"values":[0,100,200,300],"format":"d","title":null}},"yError":{"field":"me"},"color":{"datum":"Margin"}}},
{"mark":"errorband","encoding":{"y":{"field":"f","type":"quantitative","scale":{"domain":[-32,378]},"axis":{"values":[0,100,200,300],"format":"d","title":null}},"yError":{"field":"fe"},"color":{"datum":"FB-PbRL (SimCLR)"}}},
{"mark":"line","encoding":{"y":{"field":"m","type":"quantitative","scale":{"domain":[-32,378]},"axis":{"values":[0,100,200,300],"format":"d","title":null}},"color":{"datum":"Margin"}}},
{"mark":"line","encoding":{"y":{"field":"f","type":"quantitative","scale":{"domain":[-32,378]},"axis":{"values":[0,100,200,300],"format":"d","title":null}},"color":{"datum":"FB-PbRL (SimCLR)"}}}]},
{"title":"Cheetah Walk","width":199,"height":123,"transform":[{"filter":"datum.t=='CW'"}],"encoding":{"x":{"field":"x","type":"quantitative","scale":{"domain":[-0.0495,1.0395]},"axis":{"values":[0,0.2,0.4,0.6,0.8,1],"format":".1f","labelExpr":"datum.value==1?['1.0','1e6']:datum.label","title":"Environment Steps","titleBaseline":"alphabetic","titleY":22}}},"layer":[
{"mark":"errorband","encoding":{"y":{"field":"m","type":"quantitative","scale":{"domain":[-165,1032]},"axis":{"values":[0,200,400,600,800,1000],"format":"d","title":null}},"yError":{"field":"me"},"color":{"datum":"Margin"}}},
{"mark":"errorband","encoding":{"y":{"field":"f","type":"quantitative","scale":{"domain":[-165,1032]},"axis":{"values":[0,200,400,600,800,1000],"format":"d","title":null}},"yError":{"field":"fe"},"color":{"datum":"FB-PbRL (SimCLR)"}}},
{"mark":"line","encoding":{"y":{"field":"m","type":"quantitative","scale":{"domain":[-165,1032]},"axis":{"values":[0,200,400,600,800,1000],"format":"d","title":null}},"color":{"datum":"Margin"}}},
{"mark":"line","encoding":{"y":{"field":"f","type":"quantitative","scale":{"domain":[-165,1032]},"axis":{"values":[0,200,400,600,800,1000],"format":"d","title":null}},"color":{"datum":"FB-PbRL (SimCLR)"}}}]},
{"title":"Cheetah Walk Backward","width":199,"height":123,"transform":[{"filter":"datum.t=='CWB'"}],"encoding":{"x":{"field":"x","type":"quantitative","scale":{"domain":[-0.0495,1.0395]},"axis":{"values":[0,0.2,0.4,0.6,0.8,1],"format":".1f","labelExpr":"datum.value==1?['1.0','1e6']:datum.label","title":"Environment Steps","titleBaseline":"alphabetic","titleY":22}}},"layer":[
{"mark":"errorband","encoding":{"y":{"field":"m","type":"quantitative","scale":{"domain":[-277,1191]},"axis":{"values":[-250,0,250,500,750,1000],"format":"d","title":null}},"yError":{"field":"me"},"color":{"datum":"Margin"}}},
{"mark":"errorband","encoding":{"y":{"field":"f","type":"quantitative","scale":{"domain":[-277,1191]},"axis":{"values":[-250,0,250,500,750,1000],"format":"d","title":null}},"yError":{"field":"fe"},"color":{"datum":"FB-PbRL (SimCLR)"}}},
{"mark":"line","encoding":{"y":{"field":"m","type":"quantitative","scale":{"domain":[-277,1191]},"axis":{"values":[-250,0,250,500,750,1000],"format":"d","title":null}},"color":{"datum":"Margin"}}},
{"mark":"line","encoding":{"y":{"field":"f","type":"quantitative","scale":{"domain":[-277,1191]},"axis":{"values":[-250,0,250,500,750,1000],"format":"d","title":null}},"color":{"datum":"FB-PbRL (SimCLR)"}}}]},
{"title":"Walker Walk","width":199,"height":123,"transform":[{"filter":"datum.t=='WW'"}],"encoding":{"x":{"field":"x","type":"quantitative","scale":{"domain":[-0.0495,1.0395]},"axis":{"values":[0,0.2,0.4,0.6,0.8,1],"format":".1f","labelExpr":"datum.value==1?['1.0','1e6']:datum.label","title":"Environment Steps","titleBaseline":"alphabetic","titleY":22}}},"layer":[
{"mark":"errorband","encoding":{"y":{"field":"m","type":"quantitative","scale":{"domain":[-60,1040]},"axis":{"values":[0,200,400,600,800,1000],"format":"d","title":"Average Return"}},"yError":{"field":"me"},"color":{"datum":"Margin"}}},
{"mark":"errorband","encoding":{"y":{"field":"f","type":"quantitative","scale":{"domain":[-60,1040]},"axis":{"values":[0,200,400,600,800,1000],"format":"d","title":"Average Return"}},"yError":{"field":"fe"},"color":{"datum":"FB-PbRL (SimCLR)"}}},
{"mark":"line","encoding":{"y":{"field":"m","type":"quantitative","scale":{"domain":[-60,1040]},"axis":{"values":[0,200,400,600,800,1000],"format":"d","title":"Average Return"}},"color":{"datum":"Margin"}}},
{"mark":"line","encoding":{"y":{"field":"f","type":"quantitative","scale":{"domain":[-60,1040]},"axis":{"values":[0,200,400,600,800,1000],"format":"d","title":"Average Return"}},"color":{"datum":"FB-PbRL (SimCLR)"}}}]},
{"title":"Walker Stand","width":199,"height":123,"transform":[{"filter":"datum.t=='WS'"}],"encoding":{"x":{"field":"x","type":"quantitative","scale":{"domain":[-0.0495,1.0395]},"axis":{"values":[0,0.2,0.4,0.6,0.8,1],"format":".1f","labelExpr":"datum.value==1?['1.0','1e6']:datum.label","title":"Environment Steps","titleBaseline":"alphabetic","titleY":22}}},"layer":[
{"mark":"errorband","encoding":{"y":{"field":"m","type":"quantitative","scale":{"domain":[166,1138]},"axis":{"values":[200,400,600,800,1000],"format":"d","title":null}},"yError":{"field":"me"},"color":{"datum":"Margin"}}},
{"mark":"errorband","encoding":{"y":{"field":"f","type":"quantitative","scale":{"domain":[166,1138]},"axis":{"values":[200,400,600,800,1000],"format":"d","title":null}},"yError":{"field":"fe"},"color":{"datum":"FB-PbRL (SimCLR)"}}},
{"mark":"line","encoding":{"y":{"field":"m","type":"quantitative","scale":{"domain":[166,1138]},"axis":{"values":[200,400,600,800,1000],"format":"d","title":null}},"color":{"datum":"Margin"}}},
{"mark":"line","encoding":{"y":{"field":"f","type":"quantitative","scale":{"domain":[166,1138]},"axis":{"values":[200,400,600,800,1000],"format":"d","title":null}},"color":{"datum":"FB-PbRL (SimCLR)"}}}]},
{"title":"Walker Run","width":199,"height":123,"transform":[{"filter":"datum.t=='WR'"}],"encoding":{"x":{"field":"x","type":"quantitative","scale":{"domain":[-0.0495,1.0395]},"axis":{"values":[0,0.2,0.4,0.6,0.8,1],"format":".1f","labelExpr":"datum.value==1?['1.0','1e6']:datum.label","title":"Environment Steps","titleBaseline":"alphabetic","titleY":22}}},"layer":[
{"mark":"errorband","encoding":{"y":{"field":"m","type":"quantitative","scale":{"domain":[-9,559]},"axis":{"values":[0,100,200,300,400,500],"format":"d","title":null}},"yError":{"field":"me"},"color":{"datum":"Margin"}}},
{"mark":"errorband","encoding":{"y":{"field":"f","type":"quantitative","scale":{"domain":[-9,559]},"axis":{"values":[0,100,200,300,400,500],"format":"d","title":null}},"yError":{"field":"fe"},"color":{"datum":"FB-PbRL (SimCLR)"}}},
{"mark":"line","encoding":{"y":{"field":"m","type":"quantitative","scale":{"domain":[-9,559]},"axis":{"values":[0,100,200,300,400,500],"format":"d","title":null}},"color":{"datum":"Margin"}}},
{"mark":"line","encoding":{"y":{"field":"f","type":"quantitative","scale":{"domain":[-9,559]},"axis":{"values":[0,100,200,300,400,500],"format":"d","title":null}},"color":{"datum":"FB-PbRL (SimCLR)"}}}]},
{"title":"Walker Flip","width":199,"height":123,"transform":[{"filter":"datum.t=='WF'"}],"encoding":{"x":{"field":"x","type":"quantitative","scale":{"domain":[-0.0495,1.0395]},"axis":{"values":[0,0.2,0.4,0.6,0.8,1],"format":".1f","labelExpr":"datum.value==1?['1.0','1e6']:datum.label","title":"Environment Steps","titleBaseline":"alphabetic","titleY":22}}},"layer":[
{"mark":"errorband","encoding":{"y":{"field":"m","type":"quantitative","scale":{"domain":[-65,786]},"axis":{"values":[0,200,400,600],"format":"d","title":null}},"yError":{"field":"me"},"color":{"datum":"Margin"}}},
{"mark":"errorband","encoding":{"y":{"field":"f","type":"quantitative","scale":{"domain":[-65,786]},"axis":{"values":[0,200,400,600],"format":"d","title":null}},"yError":{"field":"fe"},"color":{"datum":"FB-PbRL (SimCLR)"}}},
{"mark":"line","encoding":{"y":{"field":"m","type":"quantitative","scale":{"domain":[-65,786]},"axis":{"values":[0,200,400,600],"format":"d","title":null}},"color":{"datum":"Margin"}}},
{"mark":"line","encoding":{"y":{"field":"f","type":"quantitative","scale":{"domain":[-65,786]},"axis":{"values":[0,200,400,600],"format":"d","title":null}},"color":{"datum":"FB-PbRL (SimCLR)"}}}]},
{"title":"Quadruped Run","width":199,"height":123,"transform":[{"filter":"datum.t=='QR'"}],"encoding":{"x":{"field":"x","type":"quantitative","scale":{"domain":[-0.0495,1.0395]},"axis":{"values":[0,0.2,0.4,0.6,0.8,1],"format":".1f","labelExpr":"datum.value==1?['1.0','1e6']:datum.label","title":"Environment Steps","titleBaseline":"alphabetic","titleY":22}}},"layer":[
{"mark":"errorband","encoding":{"y":{"field":"m","type":"quantitative","scale":{"domain":[-21,632]},"axis":{"values":[0,200,400,600],"format":"d","title":"Average Return"}},"yError":{"field":"me"},"color":{"datum":"Margin"}}},
{"mark":"errorband","encoding":{"y":{"field":"f","type":"quantitative","scale":{"domain":[-21,632]},"axis":{"values":[0,200,400,600],"format":"d","title":"Average Return"}},"yError":{"field":"fe"},"color":{"datum":"FB-PbRL (SimCLR)"}}},
{"mark":"line","encoding":{"y":{"field":"m","type":"quantitative","scale":{"domain":[-21,632]},"axis":{"values":[0,200,400,600],"format":"d","title":"Average Return"}},"color":{"datum":"Margin"}}},
{"mark":"line","encoding":{"y":{"field":"f","type":"quantitative","scale":{"domain":[-21,632]},"axis":{"values":[0,200,400,600],"format":"d","title":"Average Return"}},"color":{"datum":"FB-PbRL (SimCLR)"}}}]},
{"title":"Quadruped Walk","width":199,"height":123,"transform":[{"filter":"datum.t=='QW'"}],"encoding":{"x":{"field":"x","type":"quantitative","scale":{"domain":[-0.0495,1.0395]},"axis":{"values":[0,0.2,0.4,0.6,0.8,1],"format":".1f","labelExpr":"datum.value==1?['1.0','1e6']:datum.label","title":"Environment Steps","titleBaseline":"alphabetic","titleY":22}}},"layer":[
{"mark":"errorband","encoding":{"y":{"field":"m","type":"quantitative","scale":{"domain":[-63,1111]},"axis":{"values":[0,200,400,600,800,1000],"format":"d","title":null}},"yError":{"field":"me"},"color":{"datum":"Margin"}}},
{"mark":"errorband","encoding":{"y":{"field":"f","type":"quantitative","scale":{"domain":[-63,1111]},"axis":{"values":[0,200,400,600,800,1000],"format":"d","title":null}},"yError":{"field":"fe"},"color":{"datum":"FB-PbRL (SimCLR)"}}},
{"mark":"line","encoding":{"y":{"field":"m","type":"quantitative","scale":{"domain":[-63,1111]},"axis":{"values":[0,200,400,600,800,1000],"format":"d","title":null}},"color":{"datum":"Margin"}}},
{"mark":"line","encoding":{"y":{"field":"f","type":"quantitative","scale":{"domain":[-63,1111]},"axis":{"values":[0,200,400,600,800,1000],"format":"d","title":null}},"color":{"datum":"FB-PbRL (SimCLR)"}}}]},
{"title":"Quadruped Stand","width":199,"height":123,"transform":[{"filter":"datum.t=='QS'"}],"encoding":{"x":{"field":"x","type":"quantitative","scale":{"domain":[-0.0495,1.0395]},"axis":{"values":[0,0.2,0.4,0.6,0.8,1],"format":".1f","labelExpr":"datum.value==1?['1.0','1e6']:datum.label","title":"Environment Steps","titleBaseline":"alphabetic","titleY":22}}},"layer":[
{"mark":"errorband","encoding":{"y":{"field":"m","type":"quantitative","scale":{"domain":[58,1160]},"axis":{"values":[200,400,600,800,1000],"format":"d","title":null}},"yError":{"field":"me"},"color":{"datum":"Margin"}}},
{"mark":"errorband","encoding":{"y":{"field":"f","type":"quantitative","scale":{"domain":[58,1160]},"axis":{"values":[200,400,600,800,1000],"format":"d","title":null}},"yError":{"field":"fe"},"color":{"datum":"FB-PbRL (SimCLR)"}}},
{"mark":"line","encoding":{"y":{"field":"m","type":"quantitative","scale":{"domain":[58,1160]},"axis":{"values":[200,400,600,800,1000],"format":"d","title":null}},"color":{"datum":"Margin"}}},
{"mark":"line","encoding":{"y":{"field":"f","type":"quantitative","scale":{"domain":[58,1160]},"axis":{"values":[200,400,600,800,1000],"format":"d","title":null}},"color":{"datum":"FB-PbRL (SimCLR)"}}}]},
{"title":"Quadruped Jump","width":199,"height":123,"transform":[{"filter":"datum.t=='QJ'"}],"encoding":{"x":{"field":"x","type":"quantitative","scale":{"domain":[-0.0495,1.0395]},"axis":{"values":[0,0.2,0.4,0.6,0.8,1],"format":".1f","labelExpr":"datum.value==1?['1.0','1e6']:datum.label","title":"Environment Steps","titleBaseline":"alphabetic","titleY":22}}},"layer":[
{"mark":"errorband","encoding":{"y":{"field":"m","type":"quantitative","scale":{"domain":[-94,962]},"axis":{"values":[0,200,400,600,800],"format":"d","title":null}},"yError":{"field":"me"},"color":{"datum":"Margin"}}},
{"mark":"errorband","encoding":{"y":{"field":"f","type":"quantitative","scale":{"domain":[-94,962]},"axis":{"values":[0,200,400,600,800],"format":"d","title":null}},"yError":{"field":"fe"},"color":{"datum":"FB-PbRL (SimCLR)"}}},
{"mark":"line","encoding":{"y":{"field":"m","type":"quantitative","scale":{"domain":[-94,962]},"axis":{"values":[0,200,400,600,800],"format":"d","title":null}},"color":{"datum":"Margin"}}},
{"mark":"line","encoding":{"y":{"field":"f","type":"quantitative","scale":{"domain":[-94,962]},"axis":{"values":[0,200,400,600,800],"format":"d","title":null}},"color":{"datum":"FB-PbRL (SimCLR)"}}}]}
]}
]}
],
"config":{
"font":"Liberation Sans",
"view":{"stroke":"#d4d4d4","strokeWidth":1},
"axis":{"domain":false,"ticks":false,"grid":true,"gridColor":"#e8e8e8","gridWidth":1,"labelFont":"Liberation Sans","labelFontSize":10,"labelColor":"#333333","labelFlush":false,"labelOverlap":false,"titleFont":"Liberation Sans","titleFontSize":12,"titleFontWeight":"normal","titleColor":"#262626","titlePadding":2},
"axisX":{"labelPadding":1,"labelLineHeight":14},
"axisY":{"labelPadding":4,"titlePadding":0},
"title":{"font":"Liberation Sans","fontSize":13,"fontWeight":"normal","color":"#262626","offset":2},
"line":{"strokeWidth":1.5},
"errorband":{"band":{"opacity":0.2}},
"legend":{"orient":"none","legendX":306,"legendY":357,"direction":"horizontal","symbolType":"stroke","symbolSize":1444,"symbolStrokeWidth":3,"symbolOpacity":1,"labelFontSize":18,"labelFont":"Liberation Sans","labelColor":"#262626","labelOffset":12,"labelLimit":300,"columnPadding":34,"padding":0}
}
}
